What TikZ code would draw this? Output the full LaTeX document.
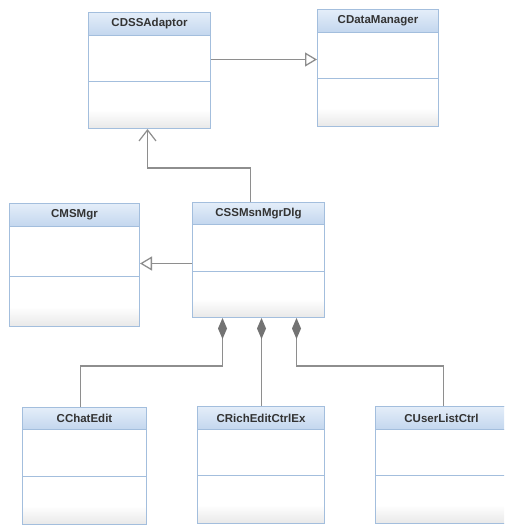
\documentclass[tikz,border=0pt]{standalone}
\usepackage{fontspec}
\setmainfont{Liberation Sans}
\usetikzlibrary{arrows.meta}
\definecolor{clsborder}{HTML}{A3BEDD}
\definecolor{hdrtop}{HTML}{E4EEF9}
\definecolor{hdrbot}{HTML}{C3D6EE}
\definecolor{linkgray}{HTML}{8E8E8E}
\definecolor{diagray}{HTML}{737373}
\definecolor{txtgray}{HTML}{333333}
\pgfdeclareverticalshading{clsbody}{100bp}{color(0bp)=(black!9); color(25bp)=(black!9);
  color(33bp)=(white); color(100bp)=(white)}
\begin{document}
\begin{tikzpicture}[x=1pt,y=-1pt,
    cls/.style={draw=clsborder,line width=1pt,anchor=north west,inner sep=0pt,
        shading=clsbody},
    hdr/.style={draw=clsborder,line width=1pt,anchor=north,inner sep=0pt,
        top color=hdrtop,bottom color=hdrbot,text=txtgray,
        font=\bfseries\fontsize{11.5}{13}\selectfont},
    sep/.style={draw=clsborder,line width=1pt},
    link/.style={draw=linkgray,line width=1.3pt},
    inherit/.style={link,-{Triangle[open,length=12pt,width=14pt,fill=white]}},
    assoc/.style={link,-{Straight Barb[length=11pt,width=17pt,line width=1.2pt]}},
    owner/.style={link,{Diamond[length=21pt,width=9pt,color=diagray,fill=diagray]}-}]
  \clip (0,0) rectangle (504,527);
  \fill[white] (0,0) rectangle (504,527);
  % class boxes
  \node[cls,minimum width=122pt,minimum height=116pt] (adaptor) at (88,12) {};
  \node[hdr,minimum width=122pt,minimum height=23pt] (adaptorH) at (adaptor.north) {CDSSAdaptor};
  \draw[sep] ([yshift=-69pt]adaptor.north west) -- ([yshift=-69pt]adaptor.north east);
  \node[cls,minimum width=121pt,minimum height=117pt] (datamgr) at (317,9) {};
  \node[hdr,minimum width=121pt,minimum height=23pt] (datamgrH) at (datamgr.north) {CDataManager};
  \draw[sep] ([yshift=-69pt]datamgr.north west) -- ([yshift=-69pt]datamgr.north east);
  \node[cls,minimum width=130pt,minimum height=123pt] (msmgr) at (9,203) {};
  \node[hdr,minimum width=130pt,minimum height=23pt] (msmgrH) at (msmgr.north) {CMSMgr};
  \draw[sep] ([yshift=-73pt]msmgr.north west) -- ([yshift=-73pt]msmgr.north east);
  \node[cls,minimum width=132pt,minimum height=115pt] (dlg) at (192,202) {};
  \node[hdr,minimum width=132pt,minimum height=22pt] (dlgH) at (dlg.north) {CSSMsnMgrDlg};
  \draw[sep] ([yshift=-69pt]dlg.north west) -- ([yshift=-69pt]dlg.north east);
  \node[cls,minimum width=124pt,minimum height=117pt] (chat) at (22,407) {};
  \node[hdr,minimum width=124pt,minimum height=22pt] (chatH) at (chat.north) {CChatEdit};
  \draw[sep] ([yshift=-69pt]chat.north west) -- ([yshift=-69pt]chat.north east);
  \node[cls,minimum width=127pt,minimum height=117pt] (rich) at (197,406) {};
  \node[hdr,minimum width=127pt,minimum height=23pt] (richH) at (rich.north) {CRichEditCtrlEx};
  \draw[sep] ([yshift=-69pt]rich.north west) -- ([yshift=-69pt]rich.north east);
  \node[cls,minimum width=132pt,minimum height=117pt] (userlist) at (375,406) {};
  \node[hdr,minimum width=132pt,minimum height=23pt] (userlistH) at (userlist.north) {CUserListCtrl};
  \draw[sep] ([yshift=-69pt]userlist.north west) -- ([yshift=-69pt]userlist.north east);
  % relations
  \draw[inherit] ([yshift=11pt]adaptor.east) -- ([yshift=11pt]adaptor.east -| datamgr.west);
  \draw[assoc] ([xshift=-8pt]dlg.north) -- ++(0,-34) -| ([xshift=-2pt]adaptor.south);
  \draw[inherit] ([yshift=-3.5pt]dlg.west) -- ([yshift=-3.5pt]dlg.west -| msmgr.east);
  \draw[owner] ([xshift=-36pt]dlg.south) -- ++(0,48) -| ([xshift=-4pt]chat.north);
  \draw[owner] ([xshift=3pt]dlg.south) -- ([xshift=3pt]dlg.south |- rich.north);
  \draw[owner] ([xshift=38pt]dlg.south) -- ++(0,48) -| ([xshift=2pt]userlist.north);
\end{tikzpicture}
\end{document}
